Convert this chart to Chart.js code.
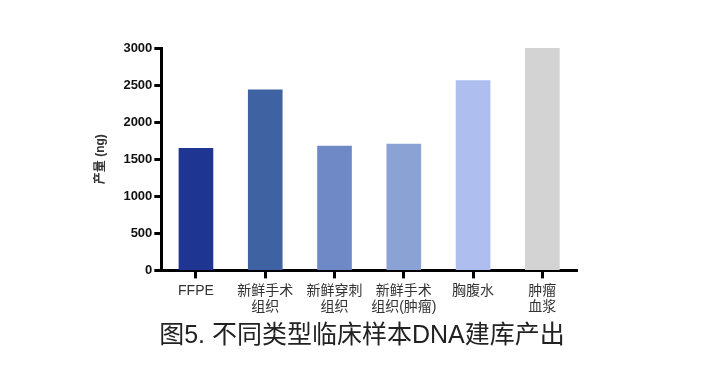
<!DOCTYPE html>
<html><head><meta charset="utf-8">
<script src="https://cdn.jsdelivr.net/npm/chart.js@4/dist/chart.umd.min.js"></script>
<style>html,body{margin:0;padding:0;background:#fff;}#wrap{width:701px;height:380px;position:relative;}</style>
</head><body><div id="wrap"><canvas id="c" width="701" height="380"></canvas></div>
<script>
const categories = ['FFPE', ['新鲜手术','组织'], ['新鲜穿刺','组织'], ['新鲜手术','组织(肿瘤)'], '胸腹水', ['肿瘤','血浆']];
const yieldValues = [1650, 2440, 1680, 1710, 2565, 3000];
const barColors = ['#1e3592', '#3f62a2', '#6f89c6', '#8ba3d4', '#adbeef', '#d3d3d3'];
const yTicks = [0, 500, 1000, 1500, 2000, 2500, 3000];
const titleText = '图5. 不同类型临床样本DNA建库产出';
const yTitle = '产量 (ng)';

const FONT = "'Liberation Sans', Arial, 'Noto Sans CJK SC', sans-serif";
const bottomTitle = {
  id: 'bottomTitle',
  afterDraw(chart) {
    const ctx = chart.ctx;
    ctx.save();
    ctx.font = "normal 25px " + FONT;
    ctx.fillStyle = '#222';
    ctx.textAlign = 'center';
    ctx.textBaseline = 'middle';
    ctx.fillText(titleText, 362, 336);
    ctx.restore();
  }
};
new Chart(document.getElementById('c'), {
  type: 'bar',
  data: { labels: categories, datasets: [{ data: yieldValues, backgroundColor: barColors, borderWidth: 0, barPercentage: 0.5, categoryPercentage: 1.0 }] },
  options: {
    responsive: false, animation: false, devicePixelRatio: 1,
    layout: { padding: { left: 93, right: 124, top: 48, bottom: 60 } },
    plugins: { legend: { display: false }, tooltip: { enabled: false }, title: { display: false } },
    scales: {
      x: {
        grid: { display: true, offset: false, drawOnChartArea: false, drawTicks: true, tickLength: 8, tickWidth: 3, tickColor: '#000' },
        border: { display: true, color: '#000', width: 3 },
        ticks: { color: '#333', font: { family: FONT, size: 14 }, padding: 4, maxRotation: 0, autoSkip: false }
      },
      y: {
        min: 0, max: 3000,
        afterBuildTicks: (s) => { s.ticks = yTicks.map(v => ({ value: v })); },
        grid: { display: true, drawOnChartArea: false, drawTicks: true, tickLength: 7, tickWidth: 3, tickColor: '#000' },
        border: { display: true, color: '#000', width: 3 },
        ticks: { color: '#111', font: { family: FONT, size: 13, weight: 'bold' }, padding: 2, callback: (v) => String(v) },
        title: { display: true, text: yTitle, color: '#333', font: { family: FONT, size: 12, weight: 'bold' }, padding: { top: 0, bottom: 14 } }
      }
    }
  },
  plugins: [bottomTitle]
});
</script></body></html>
